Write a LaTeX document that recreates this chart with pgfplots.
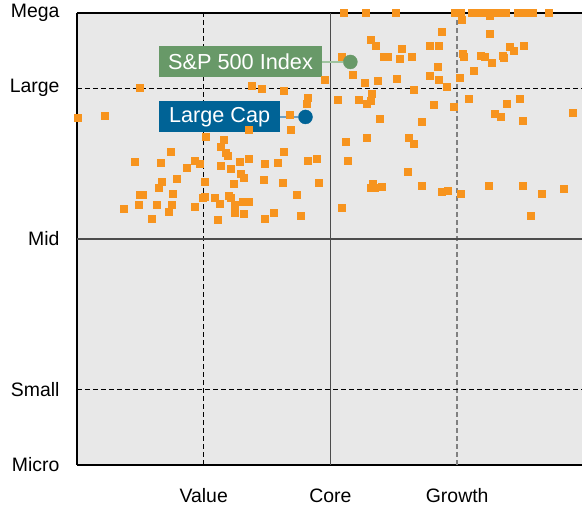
\documentclass[border=0pt]{standalone}
\usepackage{pgfplots}
\pgfplotsset{compat=1.18}
\usepackage{fontspec}
\setmainfont{Liberation Sans}
\definecolor{ptorange}{RGB}{247,148,30}
\definecolor{bggray}{RGB}{232,232,232}
\definecolor{spgreen}{RGB}{104,153,104}
\definecolor{spgreenlt}{RGB}{160,196,160}
\definecolor{lcblue}{RGB}{0,99,150}
\definecolor{lcbluelt}{RGB}{110,160,195}
\begin{document}
\begin{tikzpicture}
\begin{axis}[
  name=ax,
  scale only axis, width=505bp, height=452bp,
  xmin=0, xmax=3.985, ymin=0, ymax=6,
  axis x line*=box, axis y line*=left,
  axis line style={black, line width=1.2bp},
  axis background/.style={fill=bggray},
  xtick={1,2,3}, xticklabels={Value,Core,Growth},
  ytick={0,1,3,5,6}, yticklabels={Micro,Small,Mid,Large,Mega},
  major tick length=0pt,
  tick label style={font=\fontsize{19.5}{21}\selectfont},
  xticklabel style={yshift=-20bp},
  yticklabel style={xshift=-14bp},
  clip=false,
]
\draw[black, dash pattern=on 5bp off 3bp, line width=0.8bp] (axis cs:1,0) -- (axis cs:1,6);
\draw[black!70, line width=1.3bp] (axis cs:2,0) -- (axis cs:2,6);
\draw[black!50, dash pattern=on 5bp off 3bp, line width=1.5bp] (axis cs:3,0) -- (axis cs:3,6);
\draw[black, dash pattern=on 5bp off 3bp, line width=0.8bp] (axis cs:0,5) -- (axis cs:3.985,5);
\draw[black!70, line width=1.3bp] (axis cs:0,3) -- (axis cs:3.985,3);
\draw[black, dash pattern=on 5bp off 3bp, line width=0.8bp] (axis cs:0,1) -- (axis cs:3.985,1);

\addplot[only marks, mark=square*, mark size=3.5bp, color=ptorange, mark options={draw=none, fill=ptorange}] coordinates {
(2.102,6) (2.276,6) (2.512,6) (2.984,6) (3.024,6) (3.118,6) (3.165,6) (3.213,6) (3.244,6)
(3.307,6) (3.354,6) (3.386,6) (3.480,6) (3.528,6) (3.575,6) (3.598,6) (3.724,6)
(3.039,5.907) (3.260,5.961) (2.874,5.748) (3.260,5.721) (2.780,5.562) (2.858,5.562)
(3.417,5.549) (3.449,5.496) (3.528,5.562) (3.047,5.456) (3.055,5.416) (3.189,5.429)
(3.220,5.416) (3.362,5.429) (3.370,5.403) (3.276,5.337) (2.638,5.416) (2.843,5.283)
(3.134,5.230) (2.780,5.164) (2.858,5.111) (3.016,5.138) (2.921,5.018) (2.654,4.978)
(2.811,4.779) (2.969,4.752) (3.094,4.858) (3.394,4.792) (3.496,4.858) (3.299,4.660)
(3.346,4.620) (3.913,4.673) (2.315,5.642) (2.354,5.562) (2.559,5.522) (2.087,5.416)
(2.417,5.416) (2.449,5.416) (2.543,5.390) (2.173,5.177) (1.953,5.111) (2.268,5.071)
(2.370,5.098) (2.520,5.124) (1.378,5.031) (1.457,4.991) (1.630,4.965) (1.819,4.872)
(1.811,4.792) (2.323,4.925) (2.315,4.832) (2.220,4.845) (2.283,4.792) (2.055,4.845)
(1.677,4.646) (0.496,5.005) (0.220,4.633) (0.008,4.606) (1.016,4.354) (1.157,4.314)
(1.134,4.221) (1.173,4.142) (1.189,4.102) (0.740,4.155) (0.457,4.022) (0.661,4.009)
(0.929,4.036) (0.969,3.996) (0.866,3.943) (1.134,3.969) (1.213,3.929) (1.283,4.022)
(1.291,3.863) (1.315,3.810) (0.787,3.797) (0.669,3.757) (0.646,3.677) (1.008,3.757)
(1.236,3.730) (0.496,3.584) (0.520,3.584) (0.756,3.598) (0.992,3.544) (1.008,3.558)
(1.087,3.544) (1.126,3.465) (1.197,3.571) (1.213,3.544) (1.244,3.451) (1.307,3.491)
(1.354,3.491) (0.488,3.451) (0.630,3.451) (0.748,3.451) (0.929,3.425) (0.370,3.398)
(0.724,3.359) (0.591,3.266) (1.110,3.252) (1.244,3.345) (1.315,3.332) (1.685,4.447)
(1.354,4.447) (2.386,4.593) (2.118,4.288) (2.283,4.341) (2.614,4.341) (2.654,4.261)
(1.630,4.155) (1.354,4.062) (1.480,3.996) (1.583,4.009) (1.819,4.036) (1.890,4.062)
(2.134,4.036) (1.472,3.783) (1.622,3.743) (1.906,3.743) (2.606,3.890) (1.732,3.584)
(2.331,3.730) (2.315,3.677) (2.346,3.677) (2.402,3.690) (2.087,3.412) (1.551,3.345)
(1.480,3.266) (1.764,3.305) (3.520,4.567) (2.717,4.553) (2.717,3.704) (2.874,3.624)
(2.929,3.637) (3.024,3.598) (3.252,3.704) (3.520,3.704) (3.669,3.598) (3.843,3.664)
(3.583,3.305)
};

\addplot[only marks, mark=*, mark size=7bp, color=spgreen] coordinates {(2.157,5.35)};
\addplot[only marks, mark=*, mark size=7bp, color=lcblue] coordinates {(1.803,4.62)};

\node[circle, minimum size=14bp, inner sep=0pt,
  pin={[pin distance=21bp, pin edge={spgreenlt, line width=1.8bp}, fill=spgreen, text=white,
        font=\fontsize{21.8}{23}\selectfont, inner xsep=9bp, minimum height=31bp]180:S\&P 500 Index}]
  at (axis cs:2.157,5.35) {};
\node[circle, minimum size=14bp, inner sep=0pt,
  pin={[pin distance=18bp, pin edge={lcbluelt, line width=1.8bp}, fill=lcblue, text=white,
        font=\fontsize{21.7}{23}\selectfont, inner xsep=10bp, minimum height=31bp]180:Large Cap}]
  at (axis cs:1.803,4.62) {};
\end{axis}
\pgfresetboundingbox
\path[use as bounding box] ([xshift=-77bp,yshift=-41bp]ax.south west) rectangle ([yshift=13bp]ax.north east);
\end{tikzpicture}
\end{document}
